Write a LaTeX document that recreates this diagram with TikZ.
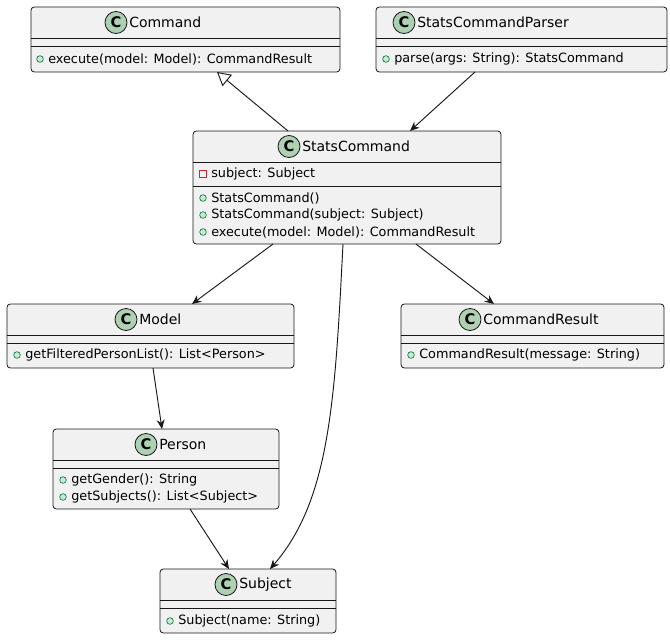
\documentclass[tikz,border=0pt]{standalone}
\usepackage{fontspec}
\setmainfont{DejaVu Sans}
\usetikzlibrary{arrows.meta,calc}
\definecolor{boxfill}{HTML}{F1F1F1}
\definecolor{boxline}{HTML}{181818}
\definecolor{cgreen}{HTML}{ADD1B2}
\definecolor{pubg}{HTML}{84BE84}
\definecolor{pubd}{HTML}{038048}
\definecolor{privr}{HTML}{C82930}
\begin{document}
\begin{tikzpicture}[x=0.75pt,y=-0.75pt,
  box/.style={draw=boxline,fill=boxfill,rounded corners=2.5pt,line width=0.6pt},
  sep/.style={draw=boxline,line width=0.5pt},
  ttl/.style={anchor=west,inner sep=0,font=\fontsize{10.5}{12}\selectfont},
  mem/.style={anchor=west,inner sep=0,font=\fontsize{9.6}{11}\selectfont},
  circ/.style={circle,draw=boxline,fill=cgreen,minimum size=16.5pt,inner sep=0,line width=0.6pt,font=\fontsize{11}{12}\selectfont\bfseries},
  pub/.style={circle,draw=pubd,fill=pubg!40,minimum size=5pt,inner sep=0,line width=0.5pt},
  priv/.style={draw=privr,fill=none,minimum size=5pt,inner sep=0,line width=0.5pt},
  arr/.style={draw=boxline,line width=0.7pt,-{Stealth[length=7pt,width=6pt]}},
  inh/.style={draw=boxline,line width=0.7pt,-{Triangle[open,length=10pt,width=11pt]}}]
\fill[white] (0,0) rectangle (670,639);
\useasboundingbox (0,0) rectangle (670,639);
% name, x1,y1,x2,y2, header line y, second line y, circle x, title
\newcommand{\umlbox}[9]{%
  \draw[box] (#2,#3) rectangle (#4,#5);
  \node[inner sep=0] (#1) at ({(#2+#4)/2},{(#3+#5)/2}) {};
  \draw[sep] (#2,#6) -- (#4,#6);
  \draw[sep] (#2,#7) -- (#4,#7);
  \node[circ] (#1c) at (#8,{(#3+#6)/2}) {C};
  \node[ttl] (#1t) at (#8+13,{(#3+#6)/2}) {#9};}
\newcommand{\pubm}[4]{\node[pub] (#1i) at (#2,#3) {}; \node[mem] (#1) at (#2+8,#3) {#4};}
\newcommand{\privm}[4]{\node[priv] (#1i) at (#2,#3) {}; \node[mem] (#1) at (#2+8,#3) {#4};}

\umlbox{cmd}{31}{7}{340}{72}{38}{46}{116}{Command}
\pubm{cmdm}{40}{59}{execute(model: Model): CommandResult}

\umlbox{par}{376}{7}{667}{72}{38}{46}{404}{StatsCommandParser}
\pubm{parm}{386}{59}{parse(args: String): StatsCommand}

\umlbox{sc}{193}{131}{501}{244}{162}{186}{289}{StatsCommand}
\privm{sca}{203}{174}{subject: Subject}
\pubm{scm1}{203}{198}{StatsCommand()}
\pubm{scm2}{203}{215}{StatsCommand(subject: Subject)}
\pubm{scm3}{203}{232}{execute(model: Model): CommandResult}

\umlbox{mod}{7}{304}{294}{368}{335}{343}{126}{Model}
\pubm{modm}{17}{355}{getFilteredPersonList(): List<Person>}

\umlbox{cr}{401}{304}{664}{368}{335}{343}{470}{CommandResult}
\pubm{crm}{411}{355}{CommandResult(message: String)}

\umlbox{per}{53}{429}{279}{509}{460}{468}{146}{Person}
\pubm{perm1}{63}{480}{getGender(): String}
\pubm{perm2}{63}{497}{getSubjects(): List<Subject>}

\umlbox{sub}{160}{569}{336}{633}{600}{608}{226}{Subject}
\pubm{subm}{170}{621}{Subject(name: String)}

\coordinate (a1) at (288,131); \coordinate (a2) at (217,72);
\coordinate (b1) at (475,72); \coordinate (b2) at (410,131);
\coordinate (c1) at (273,244); \coordinate (c2) at (192,304);
\coordinate (d1) at (416,244); \coordinate (d2) at (494,304);
\coordinate (e1) at (343,244); \coordinate (e2) at (270,569);
\coordinate (f1) at (153,368); \coordinate (f2) at (162,429);
\coordinate (g1) at (190,509); \coordinate (g2) at (229,569);
\draw[inh] (a1) -- (a2);
\draw[arr] (b1) -- (b2);
\draw[arr] (c1) -- (c2);
\draw[arr] (d1) -- (d2);
\draw[arr] (e1) .. controls (335,400) and (330,500) .. (e2);
\draw[arr] (f1) -- (f2);
\draw[arr] (g1) -- (g2);
\end{tikzpicture}
\end{document}
